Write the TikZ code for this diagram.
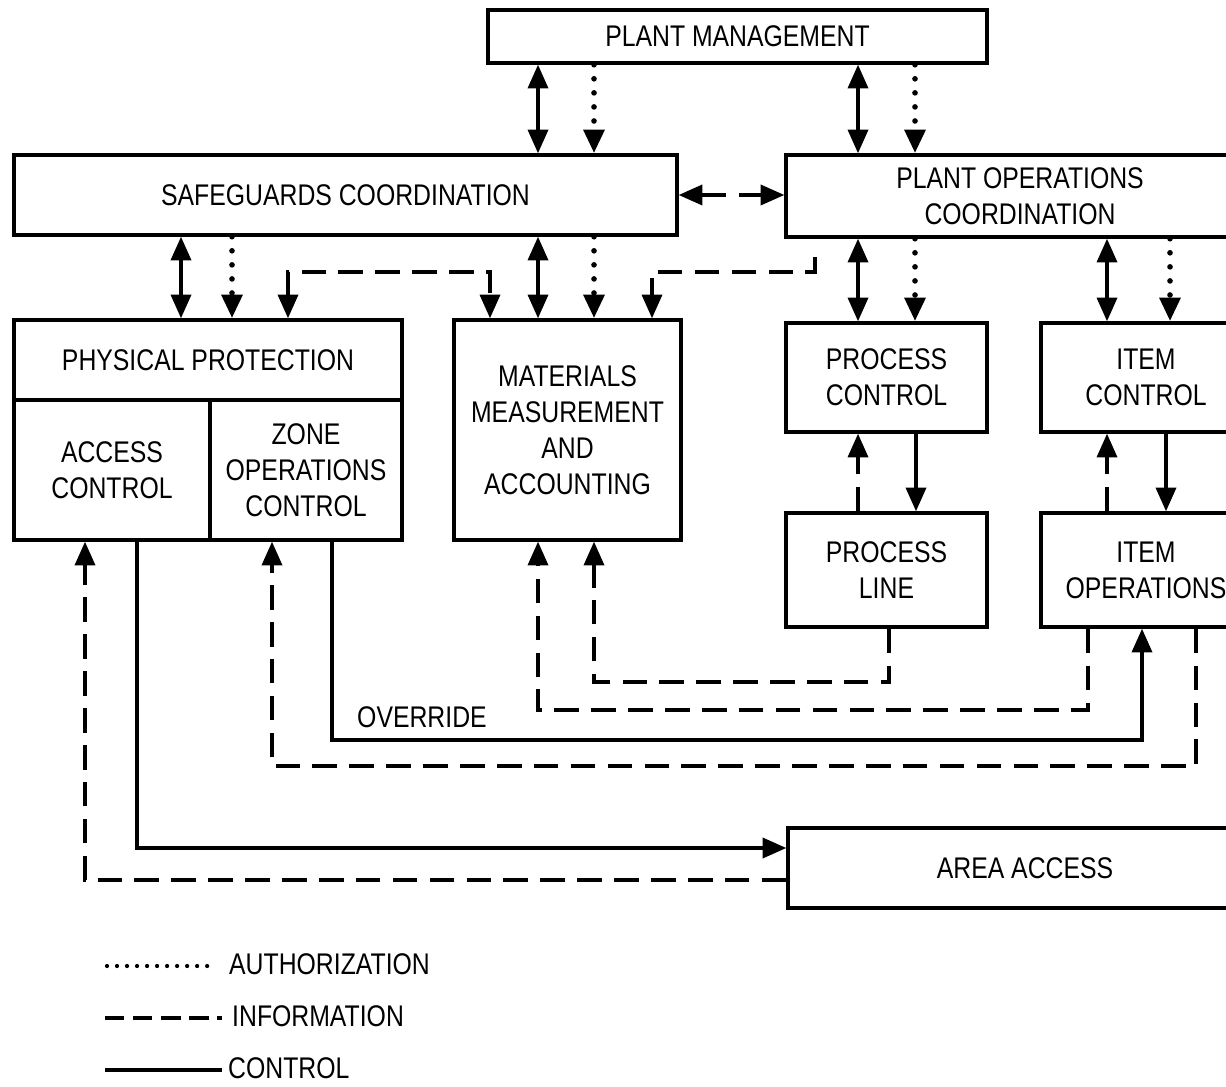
\documentclass[tikz,border=0pt]{standalone}
\usepackage{fontspec}
\setmainfont{Liberation Sans}[FakeStretch=0.83]
\usetikzlibrary{arrows.meta}
\tikzset{
  box/.style={draw,line width=2pt,rectangle,align=center,inner sep=0pt},
  tip/.tip={Triangle[length=13.5pt,width=11.5pt]},
  ctl/.style={line width=1.8pt,arrows={-}},
  info/.style={line width=1.8pt,dash pattern=on 14pt off 7pt},
  auth/.style={line width=3.2pt,line cap=round,dash pattern=on 0pt off 8pt},
}
\begin{document}
\begin{tikzpicture}[x=0.02cm,y=-0.02cm,>=tip,font=\fontsize{17}{20.5}\selectfont]
  \useasboundingbox (0,0) rectangle (1226,1087);
  %\draw (0,0) rectangle (1226,1087);
  \node[box,minimum width=9.98cm,minimum height=1.06cm] (pm) at (737.5,36.5) {PLANT MANAGEMENT};
  \node[box,minimum width=13.26cm,minimum height=1.6cm] (sc) at (345.5,195) {SAFEGUARDS COORDINATION};
  \node[box,minimum width=9.36cm,minimum height=1.64cm] (poc) at (1020,196) {PLANT OPERATIONS\\COORDINATION};
  \node[box,minimum width=7.76cm,minimum height=1.6cm] (pp) at (208,360) {PHYSICAL PROTECTION};
  \node[box,minimum width=3.92cm,minimum height=2.8cm] (ac) at (112,470) {ACCESS\\CONTROL};
  \node[box,minimum width=3.84cm,minimum height=2.8cm] (zoc) at (306,470) {ZONE\\OPERATIONS\\CONTROL};
  \node[box,minimum width=4.54cm,minimum height=4.4cm] (mma) at (567.5,430) {MATERIALS\\MEASUREMENT\\AND\\ACCOUNTING};
  \node[box,minimum width=4.02cm,minimum height=2.18cm] (pc) at (886.5,377.5) {PROCESS\\CONTROL};
  \node[box,minimum width=4.2cm,minimum height=2.18cm] (ic) at (1146,377.5) {ITEM\\CONTROL};
  \node[box,minimum width=4.02cm,minimum height=2.28cm] (pl) at (886.5,570) {PROCESS\\LINE};
  \node[box,minimum width=4.2cm,minimum height=2.28cm] (io) at (1146,570) {ITEM\\OPERATIONS};
  \node[box,minimum width=9.48cm,minimum height=1.6cm] (aa) at (1025,868) {AREA ACCESS};
  % management and coordination
  \draw[ctl,<->] (538,0 |- pm.south) -- (538,0 |- sc.north);
  \draw[auth,->] (594,0 |- pm.south) -- (594,0 |- sc.north);
  \draw[ctl,<->] (858,0 |- pm.south) -- (858,0 |- poc.north);
  \draw[auth,->] (915,0 |- pm.south) -- (915,0 |- poc.north);
  \draw[info,<->] (sc.east) -- (sc.east -| poc.west);
  % safeguards
  \draw[ctl,<->] (181,0 |- sc.south) -- (181,0 |- pp.north);
  \draw[auth,->] (232,0 |- sc.south) -- (232,0 |- pp.north);
  \draw[ctl,<->] (538,0 |- sc.south) -- (538,0 |- mma.north);
  \draw[auth,->] (594,0 |- sc.south) -- (594,0 |- mma.north);
  \draw[info,<->] (288,0 |- pp.north) -- (288,272) -| (490,0 |- mma.north);
  \coordinate (pocinfo) at (815,257);
  \draw[info,->] (pocinfo) |- (652,272) -- (652,0 |- mma.north);
  % operations
  \draw[ctl,<->] (858,0 |- poc.south) -- (858,0 |- pc.north);
  \draw[auth,->] (915,0 |- poc.south) -- (915,0 |- pc.north);
  \draw[ctl,<->] (1107,0 |- poc.south) -- (1107,0 |- ic.north);
  \draw[auth,->] (1170,0 |- poc.south) -- (1170,0 |- ic.north);
  \draw[info,->] (858,0 |- pl.north) -- (858,0 |- pc.south);
  \draw[ctl,->] (916,0 |- pc.south) -- (916,0 |- pl.north);
  \draw[info,->] (1107,0 |- io.north) -- (1107,0 |- ic.south);
  \draw[ctl,->] (1166,0 |- ic.south) -- (1166,0 |- io.north);
  % feedback loops
  \draw[info,->] (889,0 |- pl.south) |- (594,682) -- (594,0 |- mma.south);
  \draw[info,->] (1088,0 |- io.south) |- (538,710) -- (538,0 |- mma.south);
  \draw[ctl,->] (332,0 |- zoc.south) |- (1142,740) -- (1142,0 |- io.south);
  \node[anchor=base west] (ovr) at (351,727) {OVERRIDE};
  \draw[info,->] (1196,0 |- io.south) |- (272,766) -- (272,0 |- zoc.south);
  \draw[ctl,->] (137,0 |- ac.south) |- (aa.west |- 0,848);
  \draw[info,->] (aa.west |- 0,880) -| (85,0 |- ac.south);
  % legend
  \node[anchor=west] (lauth) at (223,964) {AUTHORIZATION};
  \node[anchor=west] (linfo) at (226,1016) {INFORMATION};
  \node[anchor=west] (lctl) at (222,1068) {CONTROL};
  \coordinate (a0) at (107,966);
  \coordinate (i0) at (105,1018);
  \coordinate (c0) at (105,1070);
  \draw[line width=2.4pt,line cap=round,dash pattern=on 0pt off 5.7pt,shorten >=0.16cm] (a0) -- (lauth.west |- a0);
  \draw[line width=1.8pt,dash pattern=on 11pt off 5pt,shorten >=0.08cm] (i0) -- (linfo.west |- i0);
  \draw[line width=1.8pt] (c0) -- (lctl.west |- c0);
\end{tikzpicture}
\end{document}
